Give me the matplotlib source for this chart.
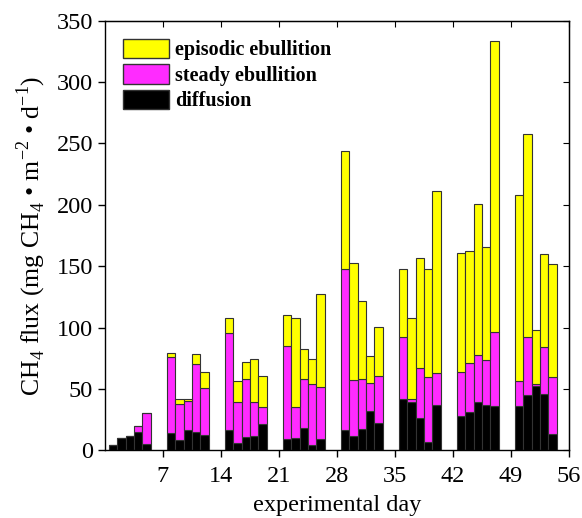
import matplotlib.pyplot as plt
from matplotlib.patches import Patch

# Données : jours de mesure et flux (mg CH4 m-2 d-1)
days = [1, 2, 3, 4, 5,
        8, 9, 10, 11, 12,
        15, 16, 17, 18, 19,
        22, 23, 24, 25, 26,
        29, 30, 31, 32, 33,
        36, 37, 38, 39, 40,
        43, 44, 45, 46, 47,
        50, 51, 52, 53, 54]

diffusion = [4, 10, 12, 15, 5,
             14, 8, 16.5, 15, 12.5,
             16.5, 6, 11, 11.7, 21.4,
             9.5, 10, 18, 4, 9,
             16.5, 12, 17, 32, 22.5,
             42, 39.6, 26, 7, 37,
             28, 31.5, 39, 36.7, 36,
             36, 45, 52.7, 46, 13]

steady = [0, 0, 0, 4.5, 25.5,
          62, 30, 23.5, 55, 38,
          79, 33.5, 47, 27.4, 14,
          75.5, 25.3, 40.4, 50, 42.6,
          131.5, 45, 41.3, 22.6, 38.3,
          50, 2, 41, 53, 26,
          36, 40, 39, 37, 60,
          20.6, 47, 1, 38, 47]

episodic = [0, 0, 0, 0.5, 0,
            3, 4, 2, 8.5, 13,
            12, 17, 13.7, 35.3, 25.5,
            25, 72.7, 24.4, 20, 75.8,
            95.6, 96, 63.3, 22.5, 40,
            55.5, 66.4, 90, 87.5, 148,
            97, 91, 123, 92, 237.6,
            151.4, 165.7, 44.5, 75.8, 91.6]

xticks = [7, 14, 21, 28, 35, 42, 49, 56]
yticks = [0, 50, 100, 150, 200, 250, 300, 350]

plt.rcParams['font.family'] = ['Liberation Serif', 'DejaVu Serif']
plt.rcParams['mathtext.fontset'] = 'custom'
plt.rcParams['mathtext.rm'] = 'Liberation Serif'

fig = plt.figure(figsize=(5.82, 5.18), dpi=100)
ax = fig.add_axes([0.1804, 0.1307, 0.7973, 0.8293])

bot2 = [d + s for d, s in zip(diffusion, steady)]
ax.bar(days, diffusion, width=1, color='black', edgecolor='#333333', linewidth=0.8)
ax.bar(days, steady, width=1, bottom=diffusion, color='#FF2BFF', edgecolor='#333333', linewidth=0.8)
ax.bar(days, episodic, width=1, bottom=bot2, color='#FFFF00', edgecolor='#333333', linewidth=0.8)

ax.set_xlim(0, 56)
ax.set_ylim(0, 350)
ax.set_xticks(xticks)
ax.set_yticks(yticks)
ax.tick_params(labelsize=17.5, direction='out', length=5, width=1)
ax.tick_params(axis='x', pad=6)
for s in ax.spines.values():
    s.set_linewidth(1)

# ticks vers l'intérieur en haut et à droite
top = ax.secondary_xaxis('top')
top.set_xticks(xticks)
top.tick_params(direction='in', length=4, labeltop=False)
right = ax.secondary_yaxis('right')
right.set_yticks(yticks)
right.tick_params(direction='in', length=4, labelright=False)

ax.set_xlabel("experimental day", fontsize=17.5, labelpad=6)
ax.set_ylabel(r"CH$_4$ flux (mg CH$_4$ • m$^{-2}$ • d$^{-1}$)", fontsize=18.5, labelpad=6)

handles = [Patch(facecolor='#FFFF00', edgecolor='#333333', label='episodic ebullition'),
           Patch(facecolor='#FF2BFF', edgecolor='#333333', label='steady ebullition'),
           Patch(facecolor='black', edgecolor='#333333', label='diffusion')]
ax.legend(handles=handles, loc='upper left', frameon=False,
          prop={'weight': 'bold', 'size': 14.5}, handlelength=2.3, handleheight=1.1,
          labelspacing=0.2, handletextpad=0.3, borderaxespad=0.5)

plt.savefig('out.png', dpi=100)
